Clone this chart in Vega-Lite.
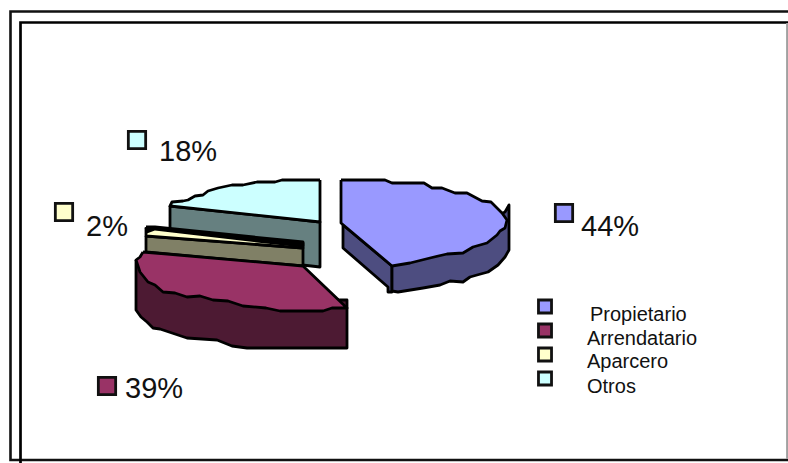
{
  "$schema": "https://vega.github.io/schema/vega-lite/v6.json",
  "width": 788,
  "height": 463,
  "padding": 0,
  "autosize": "none",
  "background": "white",
  "config": {"view": {"stroke": null}},
  "datasets": {
    "frame": [
      {"part":"outer","seq":1,"x":788,"y":11.5},{"part":"outer","seq":2,"x":10.5,"y":11.5},{"part":"outer","seq":3,"x":10.5,"y":460},{"part":"outer","seq":4,"x":788,"y":460},
      {"part":"inner","seq":1,"x":20.5,"y":463},{"part":"inner","seq":2,"x":20.5,"y":22.5},{"part":"inner","seq":3,"x":788,"y":22.5},
      {"part":"edge","seq":1,"x":787.5,"y":23},{"part":"edge","seq":2,"x":787.5,"y":459}
    ],
    "faces": [
      {"part":"Otros side","seq":1,"x":170,"y":206},{"part":"Otros side","seq":2,"x":320,"y":222},{"part":"Otros side","seq":3,"x":320,"y":267},{"part":"Otros side","seq":4,"x":170,"y":250},{"part":"Otros side","seq":5,"x":170,"y":206},

      {"part":"Otros top","seq":1,"x":320,"y":180},{"part":"Otros top","seq":2,"x":282,"y":180},{"part":"Otros top","seq":3,"x":275,"y":182},{"part":"Otros top","seq":4,"x":257,"y":182},{"part":"Otros top","seq":5,"x":243,"y":185},{"part":"Otros top","seq":6,"x":232,"y":185},{"part":"Otros top","seq":7,"x":218,"y":188},{"part":"Otros top","seq":8,"x":208,"y":191},{"part":"Otros top","seq":9,"x":203,"y":195},{"part":"Otros top","seq":10,"x":195,"y":196},{"part":"Otros top","seq":11,"x":188,"y":200},{"part":"Otros top","seq":12,"x":183,"y":201},{"part":"Otros top","seq":13,"x":172,"y":202},{"part":"Otros top","seq":14,"x":170,"y":206},{"part":"Otros top","seq":15,"x":320,"y":222},{"part":"Otros top","seq":16,"x":320,"y":180},

      {"part":"Aparcero side","seq":1,"x":146,"y":236},{"part":"Aparcero side","seq":2,"x":303,"y":248},{"part":"Aparcero side","seq":3,"x":303,"y":266},{"part":"Aparcero side","seq":4,"x":146,"y":252},{"part":"Aparcero side","seq":5,"x":146,"y":236},

      {"part":"Aparcero top","seq":1,"x":146,"y":228},{"part":"Aparcero top","seq":2,"x":155,"y":228},{"part":"Aparcero top","seq":3,"x":303,"y":243},{"part":"Aparcero top","seq":4,"x":303,"y":248},{"part":"Aparcero top","seq":5,"x":146,"y":236},{"part":"Aparcero top","seq":6,"x":146,"y":228},

      {"part":"Aparcero rim","seq":1,"x":146,"y":227},{"part":"Aparcero rim","seq":2,"x":155,"y":227},{"part":"Aparcero rim","seq":3,"x":303,"y":242},{"part":"Aparcero rim","seq":4,"x":303,"y":246},{"part":"Aparcero rim","seq":5,"x":257,"y":241},{"part":"Aparcero rim","seq":6,"x":155,"y":229},{"part":"Aparcero rim","seq":7,"x":147,"y":232},{"part":"Aparcero rim","seq":8,"x":146,"y":227},

      {"part":"Arrendatario side","seq":1,"x":136,"y":260},{"part":"Arrendatario side","seq":2,"x":136,"y":310},{"part":"Arrendatario side","seq":3,"x":141,"y":317},{"part":"Arrendatario side","seq":4,"x":147,"y":322},{"part":"Arrendatario side","seq":5,"x":153,"y":328},{"part":"Arrendatario side","seq":6,"x":160,"y":329},{"part":"Arrendatario side","seq":7,"x":172,"y":333},{"part":"Arrendatario side","seq":8,"x":187,"y":338},{"part":"Arrendatario side","seq":9,"x":217,"y":340},{"part":"Arrendatario side","seq":10,"x":232,"y":346},{"part":"Arrendatario side","seq":11,"x":247,"y":348},{"part":"Arrendatario side","seq":12,"x":347,"y":348},{"part":"Arrendatario side","seq":13,"x":347,"y":300},{"part":"Arrendatario side","seq":14,"x":340,"y":300},{"part":"Arrendatario side","seq":15,"x":136,"y":260},

      {"part":"Arrendatario top","seq":1,"x":143,"y":252},{"part":"Arrendatario top","seq":2,"x":303,"y":266},{"part":"Arrendatario top","seq":3,"x":347,"y":308},{"part":"Arrendatario top","seq":4,"x":332,"y":308},{"part":"Arrendatario top","seq":5,"x":323,"y":311},{"part":"Arrendatario top","seq":6,"x":280,"y":311},{"part":"Arrendatario top","seq":7,"x":266,"y":308},{"part":"Arrendatario top","seq":8,"x":243,"y":306},{"part":"Arrendatario top","seq":9,"x":228,"y":301},{"part":"Arrendatario top","seq":10,"x":213,"y":300},{"part":"Arrendatario top","seq":11,"x":200,"y":296},{"part":"Arrendatario top","seq":12,"x":187,"y":297},{"part":"Arrendatario top","seq":13,"x":175,"y":293},{"part":"Arrendatario top","seq":14,"x":163,"y":292},{"part":"Arrendatario top","seq":15,"x":155,"y":285},{"part":"Arrendatario top","seq":16,"x":148,"y":282},{"part":"Arrendatario top","seq":17,"x":140,"y":272},{"part":"Arrendatario top","seq":18,"x":138,"y":266},{"part":"Arrendatario top","seq":19,"x":136,"y":260},{"part":"Arrendatario top","seq":20,"x":140,"y":257},{"part":"Arrendatario top","seq":21,"x":143,"y":252},

      {"part":"Propietario inner side","seq":1,"x":343,"y":225},{"part":"Propietario inner side","seq":2,"x":343,"y":248},{"part":"Propietario inner side","seq":3,"x":388,"y":287},{"part":"Propietario inner side","seq":4,"x":388,"y":292},{"part":"Propietario inner side","seq":5,"x":392,"y":292},{"part":"Propietario inner side","seq":6,"x":392,"y":266},{"part":"Propietario inner side","seq":7,"x":343,"y":225},

      {"part":"Propietario outer side","seq":1,"x":392,"y":266},{"part":"Propietario outer side","seq":2,"x":392,"y":291},{"part":"Propietario outer side","seq":3,"x":398,"y":292},{"part":"Propietario outer side","seq":4,"x":423,"y":288},{"part":"Propietario outer side","seq":5,"x":440,"y":285},{"part":"Propietario outer side","seq":6,"x":450,"y":281},{"part":"Propietario outer side","seq":7,"x":463,"y":282},{"part":"Propietario outer side","seq":8,"x":470,"y":277},{"part":"Propietario outer side","seq":9,"x":477,"y":275},{"part":"Propietario outer side","seq":10,"x":488,"y":272},{"part":"Propietario outer side","seq":11,"x":498,"y":265},{"part":"Propietario outer side","seq":12,"x":505,"y":257},{"part":"Propietario outer side","seq":13,"x":509,"y":250},{"part":"Propietario outer side","seq":14,"x":509,"y":205},{"part":"Propietario outer side","seq":15,"x":505,"y":212},{"part":"Propietario outer side","seq":16,"x":392,"y":266},

      {"part":"Propietario top","seq":1,"x":341,"y":180},{"part":"Propietario top","seq":2,"x":385,"y":180},{"part":"Propietario top","seq":3,"x":392,"y":183},{"part":"Propietario top","seq":4,"x":424,"y":183},{"part":"Propietario top","seq":5,"x":432,"y":188},{"part":"Propietario top","seq":6,"x":442,"y":188},{"part":"Propietario top","seq":7,"x":455,"y":193},{"part":"Propietario top","seq":8,"x":467,"y":193},{"part":"Propietario top","seq":9,"x":482,"y":201},{"part":"Propietario top","seq":10,"x":491,"y":202},{"part":"Propietario top","seq":11,"x":502,"y":213},{"part":"Propietario top","seq":12,"x":507,"y":220},{"part":"Propietario top","seq":13,"x":505,"y":228},{"part":"Propietario top","seq":14,"x":500,"y":231},{"part":"Propietario top","seq":15,"x":497,"y":235},{"part":"Propietario top","seq":16,"x":487,"y":243},{"part":"Propietario top","seq":17,"x":473,"y":247},{"part":"Propietario top","seq":18,"x":463,"y":253},{"part":"Propietario top","seq":19,"x":447,"y":254},{"part":"Propietario top","seq":20,"x":430,"y":258},{"part":"Propietario top","seq":21,"x":410,"y":263},{"part":"Propietario top","seq":22,"x":392,"y":266},{"part":"Propietario top","seq":23,"x":341,"y":223},{"part":"Propietario top","seq":24,"x":341,"y":180}
    ],
    "shares": [
      {"slice":"Propietario","share":0.44,"keyX":564,"keyY":213,"textX":581,"textY":236},
      {"slice":"Arrendatario","share":0.39,"keyX":107,"keyY":386,"textX":125,"textY":398},
      {"slice":"Aparcero","share":0.02,"keyX":64,"keyY":212,"textX":86,"textY":236},
      {"slice":"Otros","share":0.18,"keyX":137,"keyY":140,"textX":159,"textY":161}
    ],
    "legend": [
      {"slice":"Propietario","keyX":545,"keyY":306.5,"textX":590,"textY":321},
      {"slice":"Arrendatario","keyX":545,"keyY":330.5,"textX":587,"textY":345},
      {"slice":"Aparcero","keyX":545,"keyY":354.5,"textX":587,"textY":368},
      {"slice":"Otros","keyX":545,"keyY":378.5,"textX":587,"textY":393}
    ]
  },
  "resolve": {"scale": {"fill": "independent"}},
  "layer": [
    {
      "data": {"name": "frame"},
      "mark": {"type": "line", "strokeJoin": "miter", "clip": false},
      "encoding": {
        "x": {"field": "x", "type": "quantitative", "scale": {"domain": [0, 788]}, "axis": null},
        "y": {"field": "y", "type": "quantitative", "scale": {"domain": [463, 0]}, "axis": null},
        "order": {"field": "seq", "type": "quantitative"},
        "detail": {"field": "part"},
        "stroke": {"field": "part", "type": "nominal", "legend": null,
          "scale": {"domain": ["outer", "inner", "edge"], "range": ["#111111", "#000000", "#a0a0a0"]}},
        "strokeWidth": {"field": "part", "type": "nominal", "legend": null,
          "scale": {"domain": ["outer", "inner", "edge"], "range": [2.6, 2.8, 1.5]}}
      }
    },
    {
      "data": {"name": "faces"},
      "mark": {"type": "line", "stroke": "black", "strokeWidth": 2.8, "strokeJoin": "round"},
      "encoding": {
        "x": {"field": "x", "type": "quantitative", "scale": {"domain": [0, 788]}, "axis": null},
        "y": {"field": "y", "type": "quantitative", "scale": {"domain": [463, 0]}, "axis": null},
        "order": {"field": "seq", "type": "quantitative"},
        "fill": {"field": "part", "type": "nominal", "legend": null,
          "scale": {
            "domain": ["Otros side", "Otros top", "Aparcero side", "Aparcero top", "Aparcero rim", "Arrendatario side", "Arrendatario top", "Propietario inner side", "Propietario outer side", "Propietario top"],
            "range": ["#668080", "#CCFFFF", "#808066", "#FFFFCC", "#000000", "#4D1A33", "#993366", "#4D4D80", "#4D4D80", "#9999FF"]
          }}
      }
    },
    {
      "data": {"name": "shares"},
      "mark": {"type": "point", "shape": "square", "filled": true, "size": 300, "stroke": "#111111", "strokeWidth": 2.8, "opacity": 1},
      "encoding": {
        "x": {"field": "keyX", "type": "quantitative", "scale": {"domain": [0, 788]}, "axis": null},
        "y": {"field": "keyY", "type": "quantitative", "scale": {"domain": [463, 0]}, "axis": null},
        "fill": {"field": "slice", "type": "nominal", "legend": null,
          "scale": {"domain": ["Propietario", "Arrendatario", "Aparcero", "Otros"], "range": ["#9999FF", "#993366", "#FFFFCC", "#CCFFFF"]}}
      }
    },
    {
      "data": {"name": "legend"},
      "mark": {"type": "point", "shape": "square", "filled": true, "size": 170, "stroke": "#111111", "strokeWidth": 2.8, "opacity": 1},
      "encoding": {
        "x": {"field": "keyX", "type": "quantitative", "scale": {"domain": [0, 788]}, "axis": null},
        "y": {"field": "keyY", "type": "quantitative", "scale": {"domain": [463, 0]}, "axis": null},
        "fill": {"field": "slice", "type": "nominal", "legend": null,
          "scale": {"domain": ["Propietario", "Arrendatario", "Aparcero", "Otros"], "range": ["#9999FF", "#993366", "#FFFFCC", "#CCFFFF"]}}
      }
    },
    {
      "data": {"name": "shares"},
      "mark": {"type": "text", "font": "Liberation Sans", "fontSize": 29, "align": "left", "baseline": "alphabetic", "color": "#111111"},
      "encoding": {
        "x": {"field": "textX", "type": "quantitative", "scale": {"domain": [0, 788]}, "axis": null},
        "y": {"field": "textY", "type": "quantitative", "scale": {"domain": [463, 0]}, "axis": null},
        "text": {"field": "share", "type": "quantitative", "format": ".0%"}
      }
    },
    {
      "data": {"name": "legend"},
      "mark": {"type": "text", "font": "Liberation Sans", "fontSize": 20, "align": "left", "baseline": "alphabetic", "color": "#111111"},
      "encoding": {
        "x": {"field": "textX", "type": "quantitative", "scale": {"domain": [0, 788]}, "axis": null},
        "y": {"field": "textY", "type": "quantitative", "scale": {"domain": [463, 0]}, "axis": null},
        "text": {"field": "slice", "type": "nominal"}
      }
    }
  ]
}
